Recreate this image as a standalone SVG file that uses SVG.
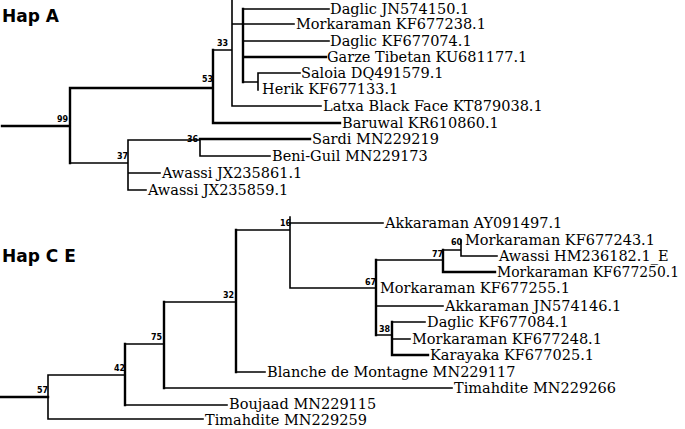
<svg xmlns="http://www.w3.org/2000/svg" width="685" height="429" viewBox="0 0 685 429">
<style>
.e{stroke:#000;stroke-width:1.6;fill:none;stroke-linecap:square}
.t{stroke-width:2.4}
.l{font-family:"DejaVu Serif",serif;font-size:14.5px;fill:#000}
.b{font-family:"DejaVu Sans",sans-serif;font-size:8px;font-weight:bold;fill:#000}
.h{font-family:"DejaVu Sans",sans-serif;font-size:17px;font-weight:bold;fill:#000}
</style>
<rect width="685" height="429" fill="#fff"/>
<g id="connectors">
<path class="e" d="M2 126H70M70 88V163M70 88H213M213 50V123M213 50H232M232 0V106M232 24H243M243 9V82M243 9H329M232 24H294M243 41H329M243 57H326M243 82H258M258 73V90M258 73H300M232 106H321M70 163H128M128 140V190M128 140H200M200 139V156M200 139H310M200 156H270M128 173H160M128 190H146"/>
<path class="e t" d="M2 126H70M70 88V163M70 88H213M213 50V123M213 123H340M243 9V82M243 57H326M200 139H310"/>
<path class="e" d="M0 397H48M48 375V419M48 375H125M125 344V405M125 405H227M48 419H203M125 344H164M164 302V388M164 388H452M164 302H236M236 230V372M236 372H265M236 230H290M290 217V288M290 223H383M290 288H376M376 260V335M376 260H443M443 250V272M443 272H495M443 250H461M461 240V256M461 256H497M376 306H443M376 335H392M392 322V355M392 322H425M392 339H410M392 355H428"/>
<path class="e t" d="M0 397H48M125 344V405M164 302V388M236 230V372M376 260V335M443 250V272M443 272H495M392 322V355M392 355H428"/>
</g>
<g id="labels-A">
<text class="h" x="2" y="22">Hap A</text>
<text class="b" x="57" y="122">99</text>
<text class="b" x="202" y="82">53</text>
<text class="b" x="217" y="46">33</text>
<text class="b" x="117" y="159">37</text>
<text class="b" x="187" y="142">36</text>
</g>
<g id="leaves-A">
<text class="l" x="330" y="14">Daglic JN574150.1</text>
<text class="l" x="296" y="29">Morkaraman KF677238.1</text>
<text class="l" x="330" y="46">Daglic KF677074.1</text>
<text class="l" x="327" y="62">Garze Tibetan KU681177.1</text>
<text class="l" x="301" y="78">Saloia DQ491579.1</text>
<text class="l" x="262" y="94">Herik KF677133.1</text>
<text class="l" x="323" y="111">Latxa Black Face  KT879038.1</text>
<text class="l" x="342" y="128">Baruwal KR610860.1</text>
<text class="l" x="312" y="144">Sardi MN229219</text>
<text class="l" x="272" y="161">Beni-Guil MN229173</text>
<text class="l" x="162" y="178">Awassi JX235861.1</text>
<text class="l" x="148" y="195">Awassi JX235859.1</text>
</g>
<g id="labels-CE">
<text class="h" x="2" y="262">Hap C E</text>
<text class="b" x="37" y="393">57</text>
<text class="b" x="114" y="371">42</text>
<text class="b" x="151" y="340">75</text>
<text class="b" x="223" y="298">32</text>
<text class="b" x="280" y="226">16</text>
<text class="b" x="365" y="285">67</text>
<text class="b" x="432" y="257">77</text>
<text class="b" x="451" y="245">60</text>
<text class="b" x="379" y="332">38</text>
</g>
<g id="leaves-CE">
<text class="l" x="385" y="228">Akkaraman AY091497.1</text>
<text class="l" x="465" y="245">Morkaraman KF677243.1</text>
<text class="l" x="499" y="261">Awassi HM236182.1_E</text>
<text class="l" x="497" y="277" textLength="182" lengthAdjust="spacingAndGlyphs">Morkaraman KF677250.1</text>
<text class="l" x="380" y="293">Morkaraman KF677255.1</text>
<text class="l" x="445" y="311">Akkaraman JN574146.1</text>
<text class="l" x="427" y="327">Daglic KF677084.1</text>
<text class="l" x="412" y="344">Morkaraman KF677248.1</text>
<text class="l" x="430" y="360">Karayaka KF677025.1</text>
<text class="l" x="267" y="377">Blanche de Montagne MN229117</text>
<text class="l" x="454" y="393">Timahdite MN229266</text>
<text class="l" x="229" y="409">Boujaad MN229115</text>
<text class="l" x="205" y="425">Timahdite MN229259</text>
</g>
</svg>
